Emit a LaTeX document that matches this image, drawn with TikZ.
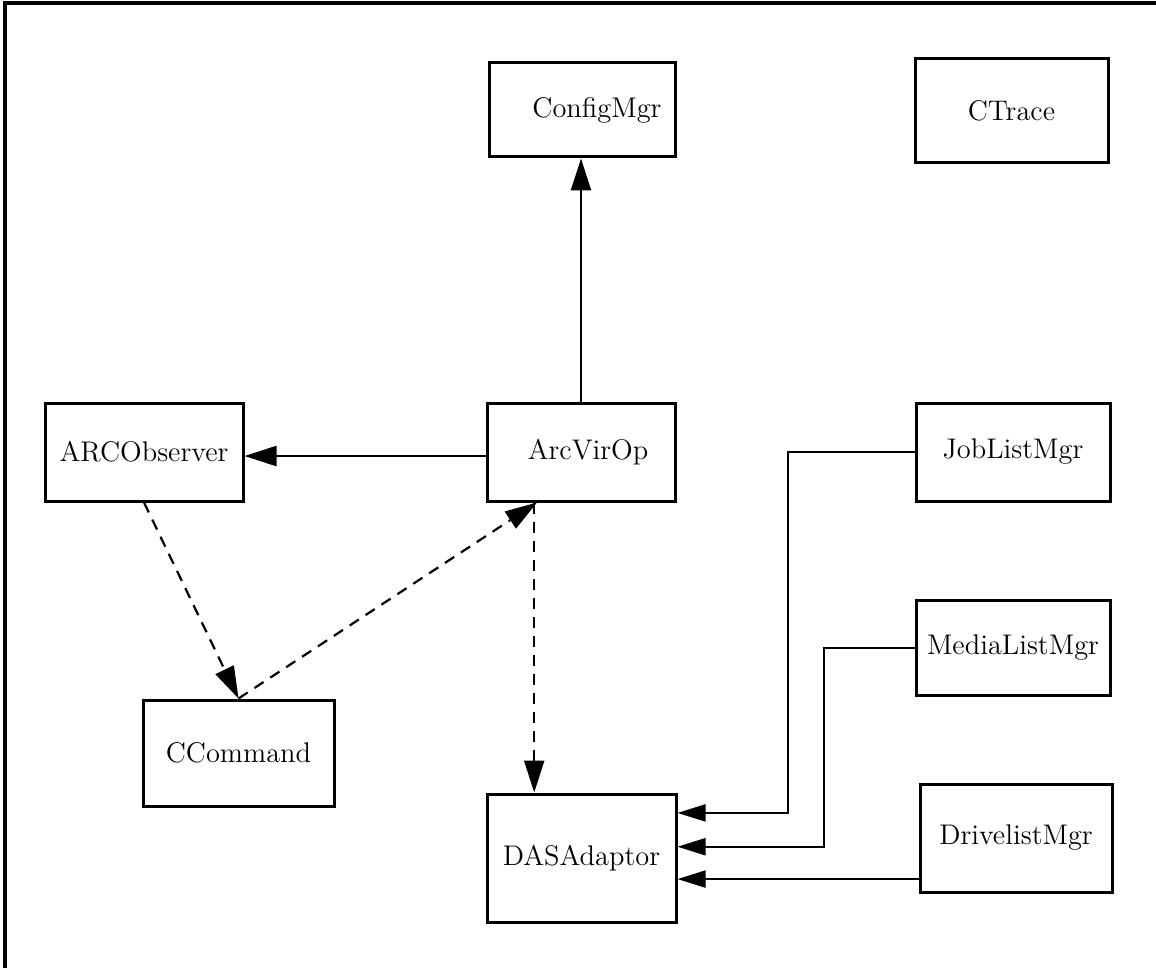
\documentclass[tikz,border=0pt]{standalone}
\usetikzlibrary{arrows.meta,calc}
\begin{document}
\begin{tikzpicture}[x=0.5pt,y=-0.5pt,
  box/.style={draw,line width=1.5pt,inner sep=0pt,font=\fontsize{14.2}{16}\selectfont},
  arr/.style={line width=1.2pt,-{Triangle[length=16pt,width=10pt]}},
  darr/.style={line width=1.1pt,dash pattern=on 5.5pt off 4pt,-{Triangle[length=16pt,width=10pt]}},
  tarr/.style={line width=1pt,-{Triangle[length=14pt,width=8.5pt]}}]
\useasboundingbox (0,0) rectangle (1156,968);
\coordinate (ftl) at (5,3);
\coordinate (ftr) at (1156,3);
\coordinate (fbl) at (5,968);
\draw[line width=2pt,line cap=rect] (ftr) -- (ftl) -- (fbl);
\node[box,minimum width=93pt,minimum height=47pt] (cfg) at (582,110) {\hspace*{15pt}ConfigMgr};
\node[box,minimum width=96.5pt,minimum height=52pt] (trc) at (1011.5,111) {CTrace};
\node[box,minimum width=94pt,minimum height=49pt] (av) at (581,452) {\hspace*{7pt}ArcVirOp};
\node[box,minimum width=99pt,minimum height=49pt] (obs) at (144,452) {ARCObserver};
\node[box,minimum width=95.5pt,minimum height=53pt] (cc) at (238.5,753) {CCommand};
\node[box,minimum width=94.5pt,minimum height=64pt] (das) at (581.5,858) {DASAdaptor};
\node[box,minimum width=97pt,minimum height=49pt] (job) at (1013,452) {JobListMgr};
\node[box,minimum width=97pt,minimum height=47.5pt] (med) at (1013,647.5) {MediaListMgr};
\node[box,minimum width=96pt,minimum height=54pt] (drv) at (1016,838) {DrivelistMgr};
\draw[arr] (av.north) -- (av.north |- cfg.south);
\coordinate (avw) at ($(av.north west)!0.54!(av.south west)$);
\draw[arr] (avw) -- (avw -| obs.east);
\draw[darr] (obs.south) -- (cc.north);
\draw[darr] (cc.north) -- ($(av.south west)!0.27!(av.south east)$);
\coordinate (avd) at ($(av.south west)!0.255!(av.south east)$);
\draw[darr] (avd) -- (avd |- das.north);
\draw[tarr] (job.west) -- ++(-127,0) |- ($(das.north east)!0.156!(das.south east)$);
\draw[tarr] (med.west) -- ++(-91,0) |- ($(das.north east)!0.414!(das.south east)$);
\coordinate (drl) at ($(drv.north west)!0.87!(drv.south west)$);
\draw[tarr] (drl) -- (drl -| das.east);
\end{tikzpicture}
\end{document}
